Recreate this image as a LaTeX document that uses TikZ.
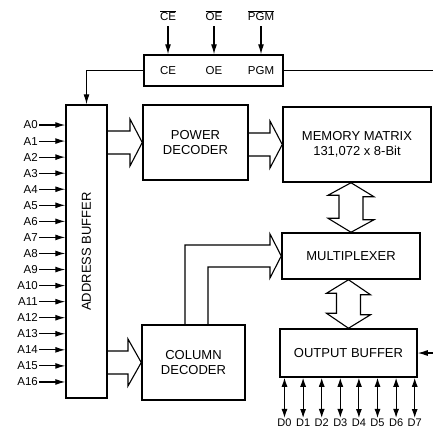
\documentclass[tikz,border=0pt]{standalone}
\usepackage{fontspec}
\setmainfont{Liberation Sans}
\usetikzlibrary{calc}
\usetikzlibrary{arrows.meta}

\begin{document}
\begin{tikzpicture}[x=1pt, y=-1pt,
	blk/.style = {draw=black, line width=1.5pt, inner sep=2pt, align=center, font=\fontsize{13}{15.5}\selectfont},
	pinlab/.style = {font=\fontsize{11.5}{13}\selectfont, inner sep=1pt},
	datalab/.style = {font=\fontsize{11}{13}\selectfont, inner sep=1pt},
	conn/.style = {line width=1.1pt},
	tip/.style = {-{Latex[length=10pt,width=6pt]}},
	dtip/.style = {{Latex[length=9pt,width=6pt]}-{Latex[length=9pt,width=6pt]}},
	fat/.style = {line width=1.1pt, line join=miter}
]
\useasboundingbox (0,0) rectangle (433,432);

% Control block with the three enable inputs
\node[blk, minimum width=139pt, minimum height=31pt] (ctrl) at (213.5,70.5) {};
\node[pinlab] (lce) at (168,71) {CE};
\node[pinlab] (loe) at (214,71) {OE};
\node[pinlab] (lpgm) at (261,71) {PGM};
\node[pinlab] (nce) at (168,16) {$\overline{\mbox{CE}}$};
\node[pinlab] (noe) at (214,16) {$\overline{\mbox{OE}}$};
\node[pinlab] (npgm) at (261,16) {$\overline{\mbox{PGM}}$};
\foreach \N in {ce, oe, pgm} {
  \draw[conn, tip] ([yshift=-4pt]n\N.south) -- (n\N.south |- ctrl.north);
}

% Main blocks
\node[blk, minimum width=41pt, minimum height=293pt] (addr) at (86.5,251.5) {};
\node[font=\fontsize{13}{15.5}\selectfont, rotate=90] (addrtxt) at (addr.center) {ADDRESS BUFFER};
\node[blk, minimum width=105pt, minimum height=75pt] (pdec) at (195.5,142.5) {POWER\\DECODER};
\node[blk, minimum width=148pt, minimum height=75pt] (mem) at (357,144.5) {MEMORY MATRIX\\131,072 x 8-Bit};
\node[blk, minimum width=138pt, minimum height=46pt] (mux) at (351,256) {MULTIPLEXER};
\node[blk, minimum width=137pt, minimum height=48pt] (obuf) at (348.5,353) {OUTPUT BUFFER};
\node[blk, minimum width=103pt, minimum height=75pt] (cdec) at (193.5,362.5) {COLUMN\\DECODER};

% Control lines
\coordinate (pgmout) at (433,70.5);
\coordinate (oein) at (433,353);
\draw[conn, tip] (ctrl.west) -| (addr.north);
\draw[conn] (ctrl.east) -- (pgmout);
\draw[conn, tip] (oein) -- (obuf.east);

% Address inputs A0 ... A16
\foreach \i in {0,...,16} {
  \node[pinlab, anchor=east] (a\i) at (39,{125+16.06*\i}) {A\i};
  \draw[conn, tip] (a\i.east) -- (a\i.east -| addr.west);
}

% Data lines D0 ... D7
\foreach \i in {0,...,7} {
  \node[datalab] (d\i) at ({284.5+18.6*\i},423) {D\i};
  \draw[conn, dtip] (d\i.north) -- (d\i.north |- obuf.south);
}

% Hollow bus arrows
\draw[fat] (addr.east |- 0,131) -- (130,131) -- (130,119) -- (pdec.west) -- (130,166) -- (130,154) -- (addr.east |- 0,154);
\draw[fat] (pdec.east |- 0,133) -- (270,133) -- (270,121) -- (mem.west) -- (270,168) -- (270,156) -- (pdec.east |- 0,156);
\draw[fat] (addr.east |- 0,351) -- (128,351) -- (128,339) -- (cdec.west) -- (128,386) -- (128,374) -- (addr.east |- 0,374);
\draw[fat] (185,0 |- cdec.north) -- (185,245) -- (270,245) -- (270,234) -- (mux.west) -- (270,278) -- (270,267) -- (208,267) -- (208,0 |- cdec.north);

% Two-way buses between matrix, multiplexer and output buffer
\draw[fat] (mux.north |- mem.south) -- ++(23,14) -- ++(-11,0) -- ++(0,23) -- ++(11,0) -- (mux.north)
  -- ++(-23,-14) -- ++(11,0) -- ++(0,-23) -- ++(-11,0) -- cycle;
\draw[fat] (obuf.north |- mux.south) -- ++(22,15) -- ++(-10,0) -- ++(0,20) -- ++(10,0) -- (obuf.north)
  -- ++(-22,-15) -- ++(10,0) -- ++(0,-20) -- ++(-10,0) -- cycle;

\end{tikzpicture}
\end{document}
